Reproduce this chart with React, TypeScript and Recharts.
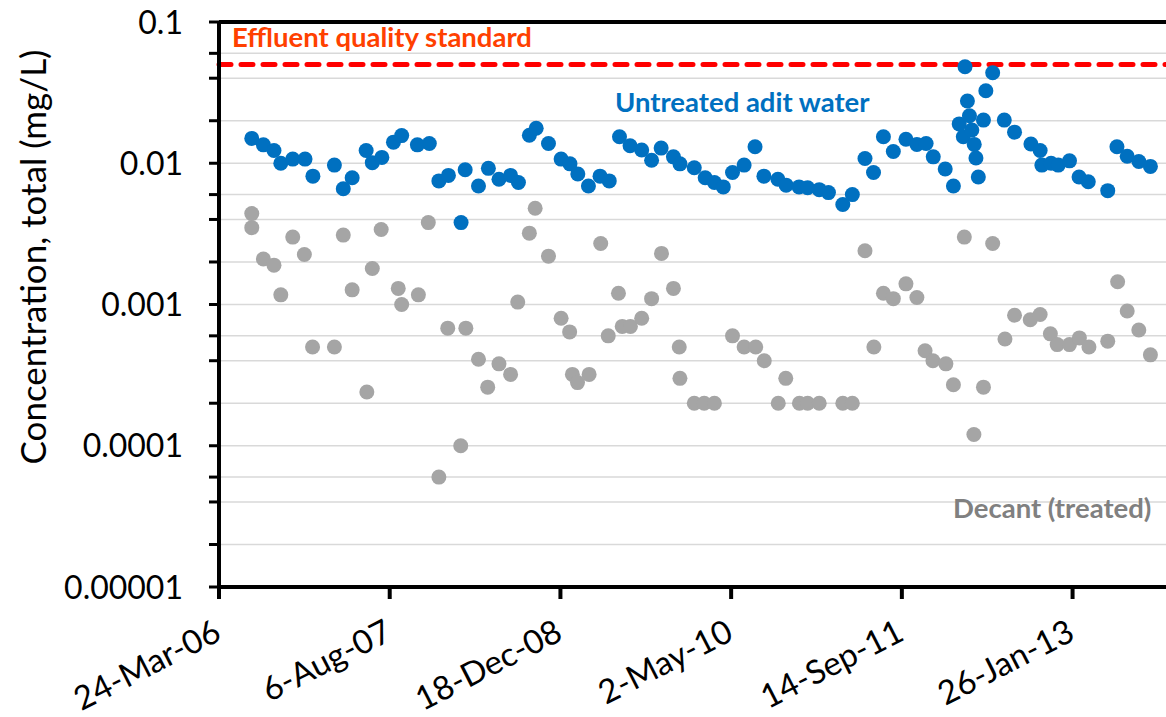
import { ScatterChart, Scatter, XAxis, YAxis, CartesianGrid, ReferenceLine } from "recharts";

const DAY = 86400000;
const START = Date.UTC(2006, 2, 24);
const END = START + 2800 * DAY;
const MONTHS = ["Jan", "Feb", "Mar", "Apr", "May", "Jun", "Jul", "Aug", "Sep", "Oct", "Nov", "Dec"];

// date axis: one tick every 500 days
const dateTicks = [0, 500, 1000, 1500, 2000, 2500].map((d) => START + d * DAY);

// log axis: labelled decades plus 2..9 minor steps
const majorTicks = [0.00001, 0.0001, 0.001, 0.01, 0.1];
const majorLabels = ["0.00001", "0.0001", "0.001", "0.01", "0.1"];
const minorSteps = [2, 3, 4, 5, 6, 7, 8, 9];

const effluentStandard = 0.05;

const untreatedAdit: [string, number][] = [
  ["2006-06-28", 0.015], ["2006-08-01", 0.0135], ["2006-09-01", 0.0123], ["2006-09-21", 0.01],
  ["2006-10-26", 0.0107], ["2006-12-01", 0.0107], ["2006-12-24", 0.0081], ["2007-02-25", 0.0097],
  ["2007-03-23", 0.0066], ["2007-04-18", 0.0079], ["2007-05-29", 0.0123], ["2007-06-16", 0.0101],
  ["2007-07-14", 0.011], ["2007-08-17", 0.0141], ["2007-09-10", 0.0157], ["2007-10-26", 0.0135],
  ["2007-11-30", 0.0138], ["2007-12-28", 0.0075], ["2008-01-25", 0.0082], ["2008-03-02", 0.0038],
  ["2008-03-14", 0.009], ["2008-04-22", 0.0069], ["2008-05-21", 0.0092], ["2008-06-21", 0.0077],
  ["2008-07-25", 0.0082], ["2008-08-17", 0.0073], ["2008-09-18", 0.0158], ["2008-10-08", 0.0177],
  ["2008-11-13", 0.0138], ["2008-12-20", 0.0107], ["2009-01-15", 0.0099], ["2009-02-07", 0.0084],
  ["2009-03-10", 0.0069], ["2009-04-13", 0.0081], ["2009-05-10", 0.0075], ["2009-06-09", 0.0154],
  ["2009-07-10", 0.0133], ["2009-08-13", 0.0124], ["2009-09-11", 0.0105], ["2009-10-09", 0.0128],
  ["2009-11-14", 0.0111], ["2009-12-03", 0.0099], ["2010-01-14", 0.0093], ["2010-02-15", 0.0079],
  ["2010-03-14", 0.0073], ["2010-04-09", 0.0068], ["2010-05-06", 0.0086], ["2010-06-09", 0.0097],
  ["2010-07-11", 0.0131], ["2010-08-06", 0.0081], ["2010-09-16", 0.0077], ["2010-10-10", 0.007],
  ["2010-11-17", 0.0068], ["2010-12-12", 0.0067], ["2011-01-15", 0.0065], ["2011-02-11", 0.0062],
  ["2011-03-25", 0.0051], ["2011-04-22", 0.006], ["2011-05-29", 0.0108], ["2011-06-23", 0.0086],
  ["2011-07-22", 0.0154], ["2011-08-20", 0.0121], ["2011-09-26", 0.0148], ["2011-10-28", 0.0136],
  ["2011-11-24", 0.0138], ["2011-12-15", 0.0111], ["2012-01-19", 0.0091], ["2012-02-12", 0.0069],
  ["2012-02-29", 0.019], ["2012-03-12", 0.0154], ["2012-03-17", 0.0482], ["2012-03-24", 0.0276],
  ["2012-03-30", 0.0217], ["2012-04-06", 0.0172], ["2012-04-13", 0.0136], ["2012-04-18", 0.0109],
  ["2012-04-25", 0.008], ["2012-05-10", 0.0202], ["2012-05-17", 0.0326], ["2012-06-06", 0.0437],
  ["2012-07-10", 0.0202], ["2012-08-09", 0.0166], ["2012-09-26", 0.0137], ["2012-10-23", 0.0123],
  ["2012-10-28", 0.0097], ["2012-11-24", 0.01], ["2012-12-15", 0.0097], ["2013-01-17", 0.0104],
  ["2013-02-14", 0.008], ["2013-03-13", 0.0074], ["2013-05-09", 0.0064], ["2013-06-05", 0.0131],
  ["2013-07-05", 0.0112], ["2013-08-08", 0.0103], ["2013-09-11", 0.0095],
];

const decantTreated: [string, number][] = [
  ["2006-06-28", 0.0044], ["2006-06-28", 0.0035], ["2006-08-01", 0.0021], ["2006-09-01", 0.0019],
  ["2006-09-21", 0.00117], ["2006-10-26", 0.003], ["2006-11-29", 0.00226], ["2006-12-23", 0.0005],
  ["2007-02-25", 0.0005], ["2007-03-23", 0.0031], ["2007-04-18", 0.00127], ["2007-05-31", 0.00024],
  ["2007-06-16", 0.0018], ["2007-07-12", 0.0034], ["2007-08-31", 0.0013], ["2007-09-10", 0.001],
  ["2007-10-29", 0.00117], ["2007-11-27", 0.0038], ["2007-12-28", 0.00006], ["2008-01-23", 0.00068],
  ["2008-03-01", 0.0001], ["2008-03-16", 0.00068], ["2008-04-22", 0.00041], ["2008-05-19", 0.00026],
  ["2008-06-21", 0.00038], ["2008-07-25", 0.00032], ["2008-08-15", 0.00104], ["2008-09-18", 0.0032],
  ["2008-10-05", 0.0048], ["2008-11-13", 0.0022], ["2008-12-20", 0.0008], ["2009-01-14", 0.00064],
  ["2009-01-22", 0.00032], ["2009-02-06", 0.00028], ["2009-03-12", 0.00032], ["2009-04-15", 0.0027],
  ["2009-05-07", 0.0006], ["2009-06-06", 0.0012], ["2009-06-17", 0.0007], ["2009-07-11", 0.0007],
  ["2009-08-13", 0.0008], ["2009-09-11", 0.0011], ["2009-10-10", 0.0023], ["2009-11-14", 0.0013],
  ["2009-12-01", 0.0005], ["2009-12-03", 0.0003], ["2010-01-14", 0.0002], ["2010-02-12", 0.0002],
  ["2010-03-14", 0.0002], ["2010-05-06", 0.0006], ["2010-06-09", 0.0005], ["2010-07-13", 0.0005],
  ["2010-08-07", 0.0004], ["2010-09-17", 0.0002], ["2010-10-09", 0.0003], ["2010-11-18", 0.0002],
  ["2010-12-12", 0.0002], ["2011-01-15", 0.0002], ["2011-03-25", 0.0002], ["2011-04-22", 0.0002],
  ["2011-05-29", 0.0024], ["2011-06-24", 0.0005], ["2011-07-22", 0.0012], ["2011-08-20", 0.0011],
  ["2011-09-26", 0.0014], ["2011-10-28", 0.00112], ["2011-11-21", 0.00047], ["2011-12-14", 0.0004],
  ["2012-01-21", 0.00038], ["2012-02-12", 0.00027], ["2012-03-15", 0.003], ["2012-04-12", 0.00012],
  ["2012-05-10", 0.00026], ["2012-06-06", 0.0027], ["2012-07-12", 0.00057], ["2012-08-09", 0.00084],
  ["2012-09-24", 0.00078], ["2012-10-23", 0.00085], ["2012-11-22", 0.00062], ["2012-12-12", 0.00052],
  ["2013-01-17", 0.00052], ["2013-02-15", 0.00058], ["2013-03-15", 0.0005], ["2013-05-09", 0.00055],
  ["2013-06-07", 0.00145], ["2013-07-05", 0.0009], ["2013-08-08", 0.00066], ["2013-09-11", 0.00044],
];

const FONT = "Lato, sans-serif";
const BLUE = "#0070C0";
const GREY = "#A5A5A5";

const concTicks = majorTicks.flatMap((m, i) =>
  i === majorTicks.length - 1 ? [m] : [m, ...minorSteps.map((s) => Number((m * s).toPrecision(2)))]
);

const toPoints = (rows: [string, number][]) => rows.map(([d, v]) => ({ t: Date.parse(d), v }));

function formatDate(ms: number) {
  const d = new Date(ms);
  return `${d.getUTCDate()}-${MONTHS[d.getUTCMonth()]}-${String(d.getUTCFullYear()).slice(2)}`;
}

// only the decades get a label, every tick keeps its tick mark
function ConcTick({ x, y, payload }: any) {
  const idx = majorTicks.indexOf(payload.value);
  if (idx < 0) return <g />;
  return (
    <text x={x} y={y} dy="0.36em" textAnchor="end" fontFamily={FONT} fontSize={32} fill="#000">
      {majorLabels[idx]}
    </text>
  );
}

function DateTick({ x, y, payload }: any) {
  const tx = x + 4;
  const ty = y + 40;
  return (
    <text x={tx} y={ty} textAnchor="end" transform={`rotate(-27, ${tx}, ${ty})`}
      fontFamily={FONT} fontSize={33} fill="#000">
      {formatDate(payload.value)}
    </text>
  );
}

const dot = (fill: string) => (props: any) => <circle cx={props.cx} cy={props.cy} r={7.5} fill={fill} />;

export default function App() {
  return (
    <div style={{ position: "absolute", left: 0, top: 0, width: 1166, height: 717, overflow: "hidden", background: "#fff" }}>
      <ScatterChart width={1190} height={717} margin={{ top: 22, right: 15, bottom: 0, left: 69 }}>
        <CartesianGrid vertical={false} stroke="#D9D9D9" strokeWidth={1.5} />
        <XAxis
          type="number"
          dataKey="t"
          domain={[START, END]}
          ticks={dateTicks}
          allowDataOverflow
          height={130}
          tickSize={12}
          tickMargin={0}
          tickLine={{ stroke: "#000", strokeWidth: 4 }}
          axisLine={{ stroke: "#000", strokeWidth: 4 }}
          tick={<DateTick />}
        />
        <YAxis
          type="number"
          dataKey="v"
          scale="log"
          domain={[0.00001, 0.1]}
          ticks={concTicks}
          allowDataOverflow
          width={150}
          tickSize={10}
          tickMargin={26}
          tickLine={{ stroke: "#000", strokeWidth: 3 }}
          axisLine={{ stroke: "#000", strokeWidth: 4 }}
          tick={<ConcTick />}
        />
        <ReferenceLine y={0.1} stroke="#000" strokeWidth={4} />
        <ReferenceLine y={effluentStandard} stroke="#FF0000" strokeWidth={5} strokeDasharray="12 10" strokeLinecap="round" />
        <Scatter data={toPoints(decantTreated)} shape={dot(GREY)} isAnimationActive={false} />
        <Scatter data={toPoints(untreatedAdit)} shape={dot(BLUE)} isAnimationActive={false} />
        <text x={33} y={257} transform="rotate(-90, 33, 257)" textAnchor="middle" dy="0.36em"
          fontFamily={FONT} fontSize={35} fill="#000">
          Concentration, total (mg/L)
        </text>
        <text x={232} y={47} fontFamily={FONT} fontWeight={700} fontSize={27.5} fill="#FF4000">
          Effluent quality standard
        </text>
        <text x={615} y={112} fontFamily={FONT} fontWeight={700} fontSize={27.5} fill={BLUE}>
          Untreated adit water
        </text>
        <text x={953} y={518} fontFamily={FONT} fontWeight={700} fontSize={27.5} fill="#808080">
          Decant (treated)
        </text>
      </ScatterChart>
    </div>
  );
}
